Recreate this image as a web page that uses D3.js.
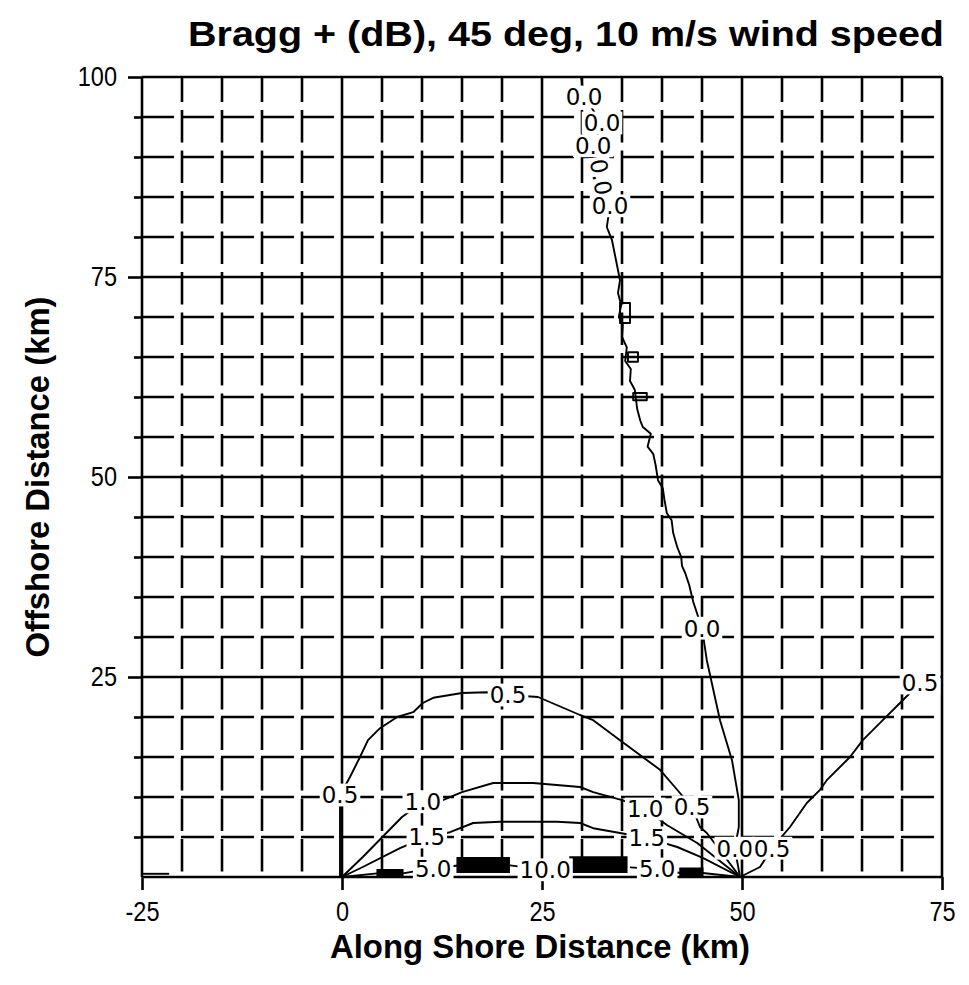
<!DOCTYPE html>
<html>
<head>
<meta charset="utf-8">
<script src="https://cdn.jsdelivr.net/npm/d3@7"></script>
<style>
  body { margin: 0; background: #fff; }
  svg { display: block; }
</style>
</head>
<body>
<svg id="chart" width="969" height="985"></svg>
<script>
// axis ticks (km)
const xTicks = [-25, 0, 25, 50, 75];
const yTicks = [25, 50, 75, 100];

// contour lines, [along shore km, offshore km]
const contour00 = [[29.9, 100], [30.25, 97.5], [32.5, 94.25], [31.4, 91.4], [32.4, 87.5], [33.5, 83.9],
  [33.1, 81.25], [33.75, 79.6], [34.75, 74.6], [34.5, 73], [34.9, 71.5], [34.6, 70], [35.1, 69],
  [35.0, 67.5], [35.6, 66.2], [35.4, 64.5], [36.1, 63.5], [36.0, 62], [36.6, 60.9], [36.9, 58.5],
  [37.3, 57], [37.6, 56.25], [38.6, 55.4], [38.2, 53.8], [38.9, 52.9], [39.2, 51.5], [39.5, 49.6],
  [40.1, 48.6], [40.3, 47.2], [40.6, 45.5], [41.2, 44.6], [41.4, 43.0], [41.9, 41.25], [42.4, 40.0],
  [42.5, 38.9], [42.9, 38.0], [43.4, 36.5], [43.9, 34.4], [45.0, 31.1], [45.6, 27.1], [47.25, 19.6],
  [48.75, 14.6], [49.6, 9.6], [49.6, 6.25], [49.1, 3.6], [49.75, 0]];
const loops00 = [
  [[34.75, 69.25], [36.0, 69.25], [36.0, 71.75], [34.75, 71.75]],
  [[35.75, 64.4], [37.0, 64.4], [37.0, 65.6], [35.75, 65.6]],
  [[36.4, 59.6], [38.1, 59.6], [38.1, 60.5], [36.4, 60.5]]
];
const contour05 = [[-0.25, 0], [-0.25, 7.5], [-0.25, 10.25], [1.0, 12.5], [2.25, 15.0], [3.25, 17.1],
  [4.75, 18.6], [6.9, 20.0], [8.9, 20.6], [10.1, 21.75], [11.4, 22.4], [15.0, 23.0], [18.1, 23.1],
  [20.75, 22.75], [24.5, 22.5], [29.75, 20.25], [31.4, 19.6], [34.75, 17.1], [39.75, 13.4],
  [41.6, 11.25], [43.75, 8.75], [44.75, 6.25], [45.6, 5.5], [47.5, 3.0], [49.75, 0]];
const contour05east = [[49.75, 0], [52.25, 1.25], [53.75, 3.6], [56, 6.25], [58.1, 9.25], [59.75, 10.9],
  [60.6, 12.1], [63.5, 15], [65.1, 17.1], [67.6, 19.6], [69.75, 21.75], [72.25, 24.25]];
const contour05west = [[-25, 0.4], [-21.6, 0.4]];
const contour10 = [[0, 0], [2.6, 2.5], [7.5, 7.5], [10.1, 9.4], [12.6, 9.6], [15.0, 10.6], [18.9, 11.75],
  [23.9, 11.75], [29.75, 11.25], [31.4, 10.6], [35.0, 9.6], [37.9, 8.5], [40.6, 6.5], [44.4, 4.25], [49.75, 0]];
const contour15 = [[0, 0], [2.6, 1.25], [7.25, 3.6], [10.6, 5.0], [13.5, 5.6], [16.4, 6.75], [19.75, 6.9],
  [26.9, 6.9], [29.75, 6.75], [31.4, 6.1], [34.75, 5.5], [38.1, 4.9], [41.9, 3.75], [45.1, 2.4], [49.75, 0]];
const contour50a = [[0, 0], [4.4, 0.45], [7.6, 0.45], [11.4, 1.1], [15.1, 1.5]];
const contour100 = [[20.6, 1.5], [25.4, 0.9], [28.5, 1.5]];
const contour50b = [[36, 1.2], [39.4, 1.0], [42.25, 0.5], [45.1, 0.5], [49.75, 0]];
// tightly packed 5.0 / 10.0 levels along the shore
const packed = [
  [[4.4, 0], [7.6, 0], [7.6, 0.9], [4.4, 0.9]],
  [[14.4, 0.6], [20.9, 0.6], [20.9, 2.4], [14.4, 2.4]],
  [[28.5, 0.6], [35.6, 0.6], [35.6, 2.5], [28.5, 2.5]],
  [[42.25, 0], [45.1, 0], [45.1, 1.1], [42.25, 1.1]]
];

// contour labels: text, x km, y km, rotation
const levelLabels = [
  ["0.5", -0.25, 10.25, 0], ["0.5", 20.75, 22.75, 0], ["0.5", 43.75, 8.75, 0],
  ["1.0", 10.1, 9.4, 0], ["1.0", 37.9, 8.5, 0],
  ["1.5", 10.6, 5.0, 0], ["1.5", 38.1, 4.9, 0],
  ["5.0", 11.4, 1.1, 0], ["10.0", 25.4, 0.9, 0], ["5.0", 39.4, 1.0, 0],
  ["0.0", 45.0, 31.1, 0], ["0.0", 49.1, 3.6, 0], ["0.5", 53.75, 3.6, 0], ["0.5", 72.25, 24.25, 0],
  ["0.0", 30.25, 97.5, 0], ["0.0", 32.5, 94.25, 0], ["0.0", 31.4, 91.4, 0],
  ["0.0", 32.4, 87.5, 80], ["0.0", 33.5, 83.9, 0]
];

const svg = d3.select("#chart");
const plotLeft = 142, plotTop = 77, plotW = 800, plotH = 800;

const x = d3.scaleLinear().domain([-25, 75]).range([plotLeft, plotLeft + plotW]);
const y = d3.scaleLinear().domain([0, 100]).range([plotTop + plotH, plotTop]);

svg.append("rect").attr("width", 969).attr("height", 985).attr("fill", "#fff");

// grid: solid every 25 km, broken lines every 5 km
const gridX = d3.range(-25, 76, 5);
const gridY = d3.range(0, 101, 5);
const isMajor = v => v % 25 === 0;

const grid = svg.append("g").attr("stroke", "#000").attr("stroke-width", 2.6);
grid.selectAll("line.gx").data(gridX).enter().append("line")
  .attr("x1", d => x(d)).attr("x2", d => x(d))
  .attr("y1", y(100)).attr("y2", y(0))
  .attr("stroke-dasharray", d => isMajor(d) ? null : "32.5,8")
  .attr("stroke-dashoffset", d => isMajor(d) ? null : 7.5);
grid.selectAll("line.gy").data(gridY).enter().append("line")
  .attr("y1", d => y(d)).attr("y2", d => y(d))
  .attr("x1", x(-25)).attr("x2", x(75))
  .attr("stroke-dasharray", d => isMajor(d) ? null : "33,7")
  .attr("stroke-dashoffset", d => isMajor(d) ? null : 1);

// axes
const tickFont = "'Liberation Sans', Arial, sans-serif";
const yMinor = gridY.filter(v => !isMajor(v));

const gyMinor = svg.append("g").attr("transform", `translate(${plotLeft},0)`)
  .call(d3.axisLeft(y).tickValues(yMinor).tickSize(8).tickFormat(""));
const gy = svg.append("g").attr("transform", `translate(${plotLeft},0)`)
  .call(d3.axisLeft(y).tickValues(yTicks).tickSize(14).tickPadding(11).tickFormat(d3.format("d")));
const gx = svg.append("g").attr("transform", `translate(0,${plotTop + plotH})`)
  .call(d3.axisBottom(x).tickValues(xTicks).tickSize(13).tickPadding(11).tickFormat(d3.format("d")));

gx.selectAll(".tick text").text(d => d < 0 ? "-" + Math.abs(d) : d);
[gyMinor, gy, gx].forEach(g => {
  g.select(".domain").remove();
  g.selectAll(".tick line").attr("stroke", "#000").attr("stroke-width", 2.6);
  g.selectAll(".tick text").attr("fill", "#000")
    .style("font-family", tickFont).style("font-size", "28px")
    .each(function() {
      // condensed digits
      const w = this.getComputedTextLength();
      d3.select(this).attr("textLength", w * 0.84).attr("lengthAdjust", "spacingAndGlyphs");
    });
});

// contours
const line = d3.line().x(d => x(d[0])).y(d => y(d[1]));
const contours = svg.append("g").attr("fill", "none").attr("stroke", "#000")
  .attr("stroke-width", 1.9).attr("stroke-linejoin", "round");
[contour00, contour05, contour05east, contour05west, contour10, contour15,
 contour50a, contour100, contour50b].forEach(c => {
  contours.append("path").attr("d", line(c));
});
loops00.forEach(c => contours.append("path").attr("d", line(c) + "Z"));
packed.forEach(c => {
  svg.append("path").attr("d", line(c) + "Z")
    .attr("fill", "#000").attr("stroke", "#000").attr("stroke-width", 1.5);
});

// contour labels on white boxes
const labelSize = 23;
const capH = labelSize * 0.73;
const labels = svg.append("g");
levelLabels.forEach(([txt, lx, ly, rot]) => {
  const g = labels.append("g")
    .attr("transform", `translate(${x(lx)},${y(ly)}) rotate(${rot})`);
  const r = g.append("rect").attr("fill", "#fff");
  const t = g.append("text")
    .attr("text-anchor", "middle")
    .attr("y", capH / 2)
    .style("font-family", "'DejaVu Sans', sans-serif")
    .style("font-size", labelSize + "px")
    .attr("fill", "#000")
    .text(txt);
  const w = t.node().getComputedTextLength();
  r.attr("x", -w / 2 - 2).attr("width", w + 4)
    .attr("y", -capH / 2 - 3).attr("height", capH + 6);
});

// titles
const bold = "'Liberation Sans', Arial, sans-serif";
svg.append("text")
  .attr("x", 566).attr("y", 46)
  .attr("text-anchor", "middle")
  .attr("textLength", 756).attr("lengthAdjust", "spacingAndGlyphs")
  .style("font-family", bold)
  .style("font-weight", "bold").style("font-size", "35px")
  .text("Bragg + (dB), 45 deg, 10 m/s wind speed");

svg.append("text")
  .attr("x", 540).attr("y", 958)
  .attr("text-anchor", "middle")
  .attr("textLength", 420).attr("lengthAdjust", "spacingAndGlyphs")
  .style("font-family", bold)
  .style("font-weight", "bold").style("font-size", "33px")
  .text("Along Shore Distance (km)");

svg.append("text")
  .attr("transform", "translate(49,477) rotate(-90)")
  .attr("text-anchor", "middle")
  .attr("textLength", 361).attr("lengthAdjust", "spacingAndGlyphs")
  .style("font-family", bold)
  .style("font-weight", "bold").style("font-size", "33px")
  .text("Offshore Distance (km)");
</script>
</body>
</html>
